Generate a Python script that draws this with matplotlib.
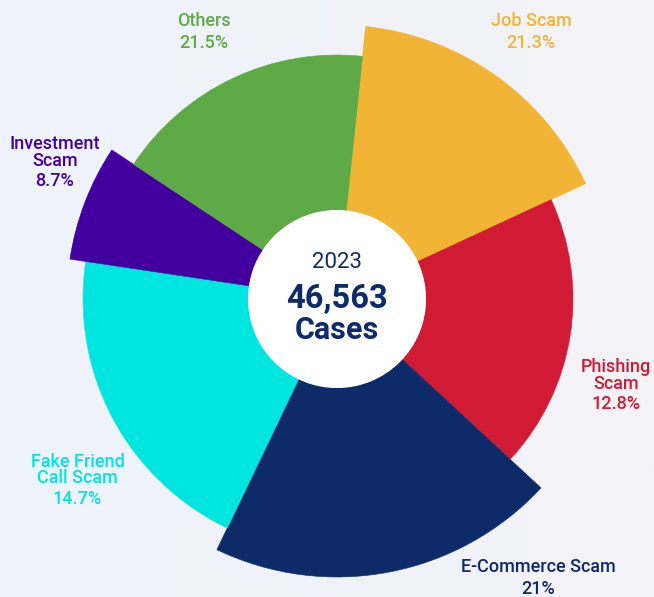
import matplotlib.pyplot as plt
import numpy as np

# slice data, clockwise from the top of the ring
labels = ['Job Scam', 'Phishing\nScam', 'E-Commerce Scam', 'Fake Friend\nCall Scam',
          'Investment\nScam', 'Others']
shares = ['21.3%', '12.8%', '21%', '14.7%', '8.7%', '21.5%']
spans = [59.1, 67.7, 72.8, 72.9, 25.0, 62.5]      # angular size, degrees
radii = [274, 236, 278, 254, 270, 244]            # outer radius
colors = ['#F1B435', '#D11A33', '#0E2B69', '#00E5E0', '#44009E', '#5DAA46']

start_angle = 6.0
inner = 89
total_cases = '46,563'
year = '2023'

# label anchor (px from top-left): name centre, percent centre
label_pos = [(531, 21.5, 43), (616, 375.5, 404), (538, 567.5, 588.5),
             (77.5, 470, 498.5), (55, 152.5, 181.5), (204, 21.5, 43)]

W, H = 654, 597
CX, CY = 337, 299
RMAX = 280

plt.rcParams['font.family'] = ['Roboto', 'DejaVu Sans']

fig = plt.figure(figsize=(W / 100, H / 100), dpi=100)

# soft background gradient
bg = fig.add_axes([0, 0, 1, 1])
grad = np.linspace(0, 1, 256).reshape(1, -1)
left_c = np.array([0xEE, 0xF3, 0xFB]) / 255
right_c = np.array([0xF3, 0xF2, 0xF7]) / 255
img = left_c[None, None, :] * (1 - grad[..., None]) + right_c[None, None, :] * grad[..., None]
bg.imshow(img, aspect='auto', extent=[0, 1, 0, 1])
bg.axis('off')

ax = fig.add_axes([(CX - RMAX) / W, (H - CY - RMAX) / H, 2 * RMAX / W, 2 * RMAX / H],
                  projection='polar')
ax.set_theta_zero_location('N')
ax.set_theta_direction(-1)
ax.set_ylim(0, RMAX)
ax.axis('off')

edges = start_angle + np.cumsum([0] + spans[:-1])
ax.bar(np.deg2rad(edges), np.array(radii) - inner, width=np.deg2rad(spans),
       bottom=inner, align='edge', color=colors, edgecolor=colors, linewidth=0.4)
# white hole in the middle
ax.bar(0, inner, width=2 * np.pi, bottom=0, color='white', linewidth=0)

# centre text
navy = '#0E2B69'
fig.text(CX / W, 1 - 263 / H, year, ha='center', va='center', fontsize=16,
         color=navy)
fig.text(CX / W, 1 - 299.5 / H, total_cases, ha='center', va='center', fontsize=23.5,
         fontweight='bold', color=navy)
fig.text(CX / W, 1 - 330 / H, 'Cases', ha='center', va='center', fontsize=22,
         fontweight='bold', color=navy)

for name, pct, col, (x, yn, yp) in zip(labels, shares, colors, label_pos):
    fig.text(x / W, 1 - yn / H, name, ha='center', va='center', fontsize=13,
             fontweight='medium', color=col, linespacing=0.92)
    fig.text(x / W, 1 - yp / H, pct, ha='center', va='center', fontsize=13,
             fontweight='medium', color=col)

fig.savefig('out.png', dpi=100)
